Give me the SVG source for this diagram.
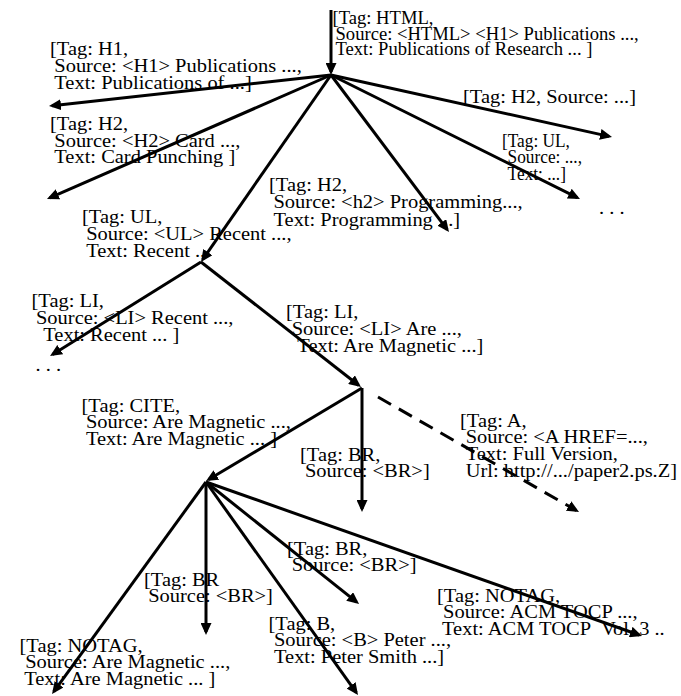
<svg xmlns="http://www.w3.org/2000/svg" width="681" height="696" viewBox="0 0 681 696">
  <style>
    .lbl { font-family: "Liberation Serif", "Times New Roman", serif; font-size: 18.6px; fill: #000; }
    .edge { stroke: #000; stroke-width: 3; fill: none; marker-end: url(#head); }
    .dash { stroke-dasharray: 15 9; }
  </style>
  <defs>
    <marker id="head" markerUnits="userSpaceOnUse" markerWidth="12" markerHeight="11" viewBox="0 0 12 11" refX="9" refY="5.5" orient="auto">
      <path d="M0,0 L12,5.5 L0,11 z" fill="#000"/>
    </marker>
  </defs>
  <rect width="681" height="696" fill="#fff"/>

  <g id="connectors">
    <!-- root entry -->
    <line class="edge" x1="331" y1="10" x2="331" y2="72"/>
    <!-- HTML children -->
    <line class="edge" x1="331" y1="75" x2="52" y2="105.7"/>
    <line class="edge" x1="331" y1="75" x2="49.7" y2="197.8"/>
    <line class="edge" x1="331" y1="75" x2="202.7" y2="259.5"/>
    <line class="edge" x1="331" y1="75" x2="447.2" y2="229.6"/>
    <line class="edge" x1="331" y1="75" x2="577.3" y2="197.7"/>
    <line class="edge" x1="331" y1="75" x2="609.1" y2="136.4"/>
    <!-- UL children -->
    <line class="edge" x1="201" y1="262" x2="52.6" y2="354.4"/>
    <line class="edge" x1="201" y1="262" x2="358.6" y2="385.2"/>
    <!-- LI children -->
    <line class="edge" x1="362" y1="388" x2="362" y2="509"/>
    <line class="edge dash" x1="378" y1="397" x2="576.4" y2="510.5"/>
    <line class="edge" x1="362" y1="388" x2="208.6" y2="479.5"/>
    <!-- CITE children -->
    <line class="edge" x1="206" y1="482" x2="53.8" y2="691.6"/>
    <line class="edge" x1="206" y1="482" x2="206" y2="632"/>
    <line class="edge" x1="206" y1="482" x2="356.7" y2="602.1"/>
    <line class="edge" x1="206" y1="482" x2="356.3" y2="692.6"/>
    <line class="edge" x1="206" y1="482" x2="639.2" y2="635"/>
  </g>

  <g id="n-html" transform="translate(332.5,24)">
    <text class="lbl"><tspan x="0" y="0">[Tag: HTML,</tspan><tspan x="3" y="15.5">Source: &lt;HTML&gt; &lt;H1&gt; Publications ...,</tspan><tspan x="3" y="31">Text: Publications of Research ... ]</tspan></text>
  </g>
  <g id="n-h1" transform="translate(50,55) scale(1.1,1)">
    <text class="lbl"><tspan x="0" y="0">[Tag: H1,</tspan><tspan x="3.9" y="17">Source: &lt;H1&gt; Publications ...,</tspan><tspan x="3.9" y="34">Text: Publications of ...]</tspan></text>
  </g>
  <g id="n-h2-card" transform="translate(50,130) scale(1.1,1)">
    <text class="lbl"><tspan x="0" y="0">[Tag: H2,</tspan><tspan x="3.9" y="16.75">Source: &lt;H2&gt; Card ...,</tspan><tspan x="3.9" y="33.5">Text: Card Punching ]</tspan></text>
  </g>
  <g id="n-h2-short" transform="translate(463,103) scale(1.1,1)">
    <text class="lbl"><tspan x="0" y="0">[Tag: H2, Source: ...]</tspan></text>
  </g>
  <g id="n-ul-right" transform="translate(502,147) scale(0.93,1)">
    <text class="lbl"><tspan x="0" y="0">[Tag: UL,</tspan><tspan x="6" y="16">Source: ...,</tspan><tspan x="6" y="33">Text: ...]</tspan></text>
  </g>
  <g id="more-top">
    <text class="lbl" transform="translate(599,214) scale(1.1,1)">. . .</text>
  </g>
  <g id="n-h2-prog" transform="translate(269,191) scale(1.1,1)">
    <text class="lbl"><tspan x="0" y="0">[Tag: H2,</tspan><tspan x="4.1" y="17.5">Source: &lt;h2&gt; Programming...,</tspan><tspan x="4.1" y="35">Text: Programming ...]</tspan></text>
  </g>
  <g id="n-ul" transform="translate(82,223) scale(1.1,1)">
    <text class="lbl"><tspan x="0" y="0">[Tag: UL,</tspan><tspan x="3.8" y="17">Source: &lt;UL&gt; Recent ...,</tspan><tspan x="3.8" y="34">Text: Recent ...</tspan></text>
  </g>
  <g id="n-li-recent" transform="translate(31.5,307) scale(1.1,1)">
    <text class="lbl"><tspan x="0" y="0">[Tag: LI,</tspan><tspan x="4.1" y="17">Source: &lt;LI&gt; Recent ...,</tspan><tspan x="10.7" y="34">Text: Recent ... ]</tspan></text>
  </g>
  <g id="more-left">
    <text class="lbl" transform="translate(35.5,370.5) scale(1.1,1)">. . .</text>
  </g>
  <g id="n-li-are" transform="translate(286,318) scale(1.1,1)">
    <text class="lbl"><tspan x="0" y="0">[Tag: LI,</tspan><tspan x="5.2" y="17.5">Source: &lt;LI&gt; Are ...,</tspan><tspan x="10.3" y="34.5">Text: Are Magnetic ...]</tspan></text>
  </g>
  <g id="n-cite" transform="translate(81.5,411.5) scale(1.1,1)">
    <text class="lbl"><tspan x="0" y="0">[Tag: CITE,</tspan><tspan x="4" y="16.5">Source: Are Magnetic ...,</tspan><tspan x="4" y="33.5">Text: Are Magnetic ... ]</tspan></text>
  </g>
  <g id="n-br-1" transform="translate(300,460.5) scale(1.1,1)">
    <text class="lbl"><tspan x="0" y="0">[Tag: BR,</tspan><tspan x="4.5" y="16.5">Source: &lt;BR&gt;]</tspan></text>
  </g>
  <g id="n-a" transform="translate(460,426.5) scale(1.1,1)">
    <text class="lbl"><tspan x="0" y="0">[Tag: A,</tspan><tspan x="5.2" y="16.5">Source: &lt;A HREF=...,</tspan><tspan x="5.2" y="33.5">Text: Full Version,</tspan><tspan x="5.2" y="50.5">Url: http://.../paper2.ps.Z]</tspan></text>
  </g>
  <g id="n-br-2" transform="translate(144,586) scale(1.1,1)">
    <text class="lbl"><tspan x="0" y="0">[Tag: BR</tspan><tspan x="3.8" y="16">Source: &lt;BR&gt;]</tspan></text>
  </g>
  <g id="n-notag-1" transform="translate(19.5,651.5) scale(1.1,1)">
    <text class="lbl"><tspan x="0" y="0">[Tag: NOTAG,</tspan><tspan x="5.2" y="16.5">Source: Are Magnetic ...,</tspan><tspan x="4.3" y="33.5">Text: Are Magnetic ... ]</tspan></text>
  </g>
  <g id="n-br-3" transform="translate(287,555) scale(1.1,1)">
    <text class="lbl"><tspan x="0" y="0">[Tag: BR,</tspan><tspan x="4.3" y="16.5">Source: &lt;BR&gt;]</tspan></text>
  </g>
  <g id="n-b" transform="translate(268.5,630) scale(1.1,1)">
    <text class="lbl"><tspan x="0" y="0">[Tag: B,</tspan><tspan x="5" y="16.5">Source: &lt;B&gt; Peter ...,</tspan><tspan x="5" y="33">Text: Peter Smith ...]</tspan></text>
  </g>
  <g id="n-notag-2" transform="translate(437,601.5) scale(1.1,1)">
    <text class="lbl"><tspan x="0" y="0">[Tag: NOTAG,</tspan><tspan x="5.5" y="16.5">Source: ACM TOCP ...,</tspan><tspan x="4.6" y="33.5">Text: ACM TOCP&#160; Vol. 3 ..</tspan></text>
  </g>
</svg>
